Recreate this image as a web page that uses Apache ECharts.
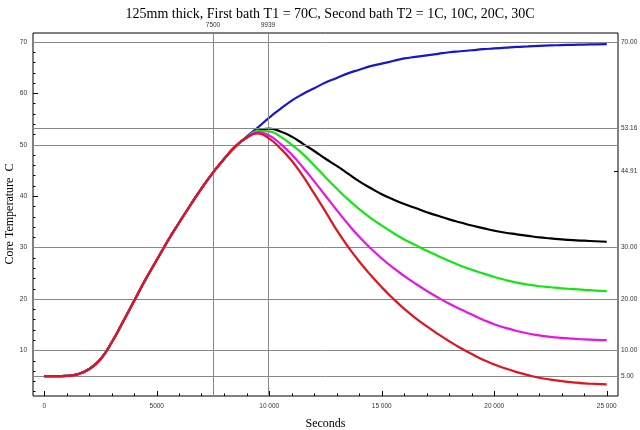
<!DOCTYPE html>
<html><head><meta charset="utf-8">
<script src="https://cdn.jsdelivr.net/npm/echarts@6/dist/echarts.min.js"></script>
<style>html,body{margin:0;padding:0;background:#fff}#c{width:640px;height:430px}</style>
</head><body><div id="c"></div>
<script>
// time samples (seconds), every 500 s
const times = [];
for (let t = 0; t <= 25000; t += 500) times.push(t);
// shared heating part (0 .. 8500 s)
const common = [5.0,5.0,5.05,5.4,6.4,8.3,11.6,15.6,19.7,23.8,27.6,31.4,34.9,38.3,41.6,44.6,47.3,49.7];
// tails from 9000 s to 25000 s (500 s steps)
const blueTail    = [51.6,53.4,55.3,57.0,58.6,59.9,61.0,62.1,63.0,63.9,64.6,65.3,65.8,66.3,66.8,67.1,67.4,67.7,68.0,68.2,68.4,68.6,68.75,68.9,69.05,69.15,69.25,69.33,69.4,69.45,69.5,69.55,69.6];
const blackTail   = [51.4,52.8,53.15,52.6,51.6,50.2,48.8,47.3,45.9,44.4,42.9,41.6,40.4,39.4,38.5,37.7,36.9,36.2,35.5,34.9,34.3,33.8,33.3,32.9,32.6,32.3,32.0,31.8,31.6,31.45,31.35,31.25,31.15];
const greenTail   = [51.4,52.7,52.6,51.6,50.0,48.2,46.0,43.7,41.5,39.4,37.5,35.8,34.3,32.9,31.6,30.5,29.4,28.4,27.4,26.5,25.7,25.0,24.3,23.7,23.2,22.8,22.5,22.3,22.1,21.95,21.8,21.65,21.55];
const magentaTail = [51.4,52.5,51.8,50.2,48.1,45.6,42.9,40.1,37.3,34.6,32.1,29.9,27.9,26.1,24.5,23.0,21.6,20.3,19.1,18.0,17.0,16.0,15.1,14.4,13.8,13.3,12.95,12.65,12.45,12.3,12.15,12.05,12.0];
const redTail     = [51.4,52.2,51.2,49.3,46.9,43.9,40.5,37.0,33.4,30.2,27.3,24.7,22.3,20.1,18.1,16.3,14.7,13.2,11.8,10.5,9.3,8.2,7.3,6.5,5.8,5.2,4.7,4.35,4.05,3.8,3.6,3.5,3.4];

const xMajor = [0,5000,10000,15000,20000,25000];
const xMinor = [1000,2000,3000,4000,6000,7000,8000,9000,11000,12000,13000,14000,16000,17000,18000,19000,21000,22000,23000,24000];
const yMajor = [10,20,30,40,50,60,70];
const yMinor = [2,4,6,8,12,14,16,18,22,24,26,28,32,34,36,38,42,44,46,48,52,54,56,58,62,64,66,68];
const rightTicks = [5,10,20,30,44.91,53.16,70];
const topTicks = [7500,9939];
const gridX = [7500,9939];
const gridY = [5,10,20,30,50,53.16,70];

const names = ['T2 = 70C','T2 = 30C','T2 = 20C','T2 = 10C','T2 = 1C'];
const tails = [blueTail,blackTail,greenTail,magentaTail,redTail];
const colors = ['#1515d2','#000000','#14e614','#e614e6','#e0141e'];

function pts(tail){ const v = common.concat(tail); return times.map((t,i)=>[t,v[i]]); }

const tickFont = {fontFamily:'Liberation Sans', fontSize:6.5, color:'#333'};
const chart = echarts.init(document.getElementById('c'));
const series = [{
  type:'line', data:[], z:1, silent:true,
  markLine:{silent:true, symbol:'none', animation:false,
    label:{show:false}, lineStyle:{color:'#888', width:1, type:'solid'},
    data: gridX.map(v=>({xAxis:v})).concat(gridY.map(v=>({yAxis:v})))}
}];
names.forEach((n,i)=>series.push({
  name:n, type:'line', data:pts(tails[i]), smooth:0.5, showSymbol:false, z:2+i,
  lineStyle:{color:colors[i], width:2.2}, itemStyle:{color:colors[i]}
}));

const xBase = {type:'value', min:-500, max:25500, offset:0, axisLine:{show:false, onZero:false}, splitLine:{show:false}};
const yBase = {type:'value', min:1.15, max:71.75, offset:0, axisLine:{show:false, onZero:false}, splitLine:{show:false}};

chart.setOption({
  animation:false,
  title:{text:'125mm thick, First bath T1 = 70C, Second bath T2 = 1C, 10C, 20C, 30C',
    left:325, textAlign:'center', top:2,
    textStyle:{fontFamily:'Liberation Serif', fontSize:14, fontWeight:'normal', color:'#000'}},
  graphic:[{type:'text', x:10, y:214, rotation:Math.PI/2, silent:true,
    style:{text:'Core Temperature  C', align:'center', verticalAlign:'middle',
      font:'12px "Liberation Serif"', fill:'#000'}}],
  grid:{left:33, right:22, top:33, bottom:34, show:true, borderColor:'#000', borderWidth:1,
        outerBoundsMode:'none', containLabel:false},
  xAxis:[
    {...xBase, position:'bottom',
     axisTick:{inside:true, length:5, customValues:xMajor, lineStyle:{color:'#000'}},
     axisLabel:{customValues:xMajor, margin:7, ...tickFont,
       formatter:v=> v>=10000 ? String(v).slice(0,2)+' '+String(v).slice(2) : String(v)},
     name:'Seconds', nameLocation:'middle', nameGap:22,
     nameTextStyle:{fontFamily:'Liberation Serif', fontSize:12, color:'#000'}},
    {...xBase, position:'bottom',
     axisTick:{inside:true, length:2.5, customValues:xMinor, lineStyle:{color:'#000'}},
     axisLabel:{show:false}},
    {...xBase, position:'top',
     axisTick:{inside:true, length:4, customValues:topTicks, lineStyle:{color:'#000'}},
     axisLabel:{customValues:topTicks, margin:4, ...tickFont, formatter:v=>String(v)}}
  ],
  yAxis:[
    {...yBase, position:'left',
     axisTick:{inside:true, length:5, customValues:yMajor, lineStyle:{color:'#000'}},
     axisLabel:{customValues:yMajor, margin:6, ...tickFont}},
    {...yBase, position:'left',
     axisTick:{inside:true, length:2.5, customValues:yMinor, lineStyle:{color:'#000'}},
     axisLabel:{show:false}},
    {...yBase, position:'right',
     axisTick:{inside:true, length:4, customValues:rightTicks, lineStyle:{color:'#000'}},
     axisLabel:{customValues:rightTicks, margin:3, ...tickFont, formatter:v=>v.toFixed(2)}}
  ],
  series: series
});
</script></body></html>
